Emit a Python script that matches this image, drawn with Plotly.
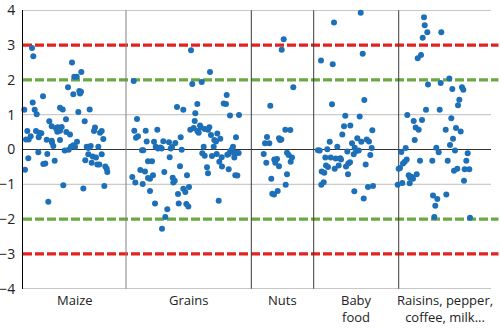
import plotly.graph_objects as go

# Category layout along the sample axis (boundaries between groups)
categories = ["Maize", "Grains", "Nuts", "Baby<br>food", "Raisins, pepper,<br>coffee, milk..."]
boundaries = [0, 103, 228.3, 290.7, 375.7, 468]

# z-scores per sample, grouped by category (x = sample position, y = z-score)
maize_x = [9, 10.3, 49, 51.3, 53.7, 58.3, 45, 50.3, 56.3, 58, 57, 20, 9.7, 1.3, 11.7, 13.7, 37, 39.7,
           55.3, 66.7, 43, 26.3, 61.7, 28.7, 33, 34.7, 38.7, 37, 34.3, 4.3, 13, 16.3, 18.3, 43.3, 47,
           72, 71, 78.7, 77, 3, 5.7, 7.7, 15.7, 23.7, 28.7, 29, 30.3, 37, 54, 50.3, 48, 52, 80.3, 63.7,
           65.3, 67.7, 75.3, 41.7, 45.7, 15.3, 24.3, 65.3, 69.7, 73, 78.7, 5.3, 31.7, 62.3, 68.7, 20.3,
           22.3, 74.3, 76.3, 82.3, 83.7, 84.3, 2, 40.3, 60.3, 81.3, 25.3]
maize_z = [2.92, 2.68, 2.50, 2.09, 2.09, 2.23, 1.79, 1.59, 1.68, 1.66, 1.61, 1.53, 1.35, 1.14, 1.14,
           1.01, 1.20, 1.15, 1.08, 1.15, 0.87, 0.81, 0.81, 0.67, 0.61, 0.64, 0.65, 0.54, 0.51, 0.53,
           0.53, 0.48, 0.47, 0.50, 0.43, 0.63, 0.53, 0.53, 0.48, 0.29, 0.29, 0.38, 0.35, 0.28, 0.25,
           0.20, 0.10, 0.27, 0.22, 0.12, 0.08, 0.08, 0.30, 0.08, 0.04, 0.10, 0.08, -0.03, -0.01, -0.08,
           -0.13, -0.14, -0.20, -0.23, -0.14, -0.25, -0.32, -0.31, -0.38, -0.42, -0.40, -0.43, -0.43,
           -0.49, -0.55, -0.65, -0.58, -1.03, -1.12, -1.05, -1.50]

grains_x = [168, 110.7, 187, 169.3, 178.7, 203.7, 200.7, 203, 174.3, 154, 160.3, 172.3, 207, 216, 114,
            171.7, 111.3, 122.7, 134.3, 167.3, 170.7, 177, 178, 174.3, 175.7, 181.7, 186.3, 185, 113,
            115, 188, 194.3, 197.3, 191.3, 193, 157.7, 213, 123.7, 131, 140.3, 146, 152.3, 132.7, 135,
            137.3, 138.7, 147.7, 149, 180.7, 190.7, 119, 120.3, 158.7, 210, 209, 207.3, 205.7, 210.7,
            213.3, 211.3, 215.7, 179.3, 181.7, 189, 193.7, 198.7, 204.3, 146.7, 125, 129, 196.3, 199,
            157, 184, 205.7, 117.3, 122, 185, 130, 127, 125, 109.3, 112.3, 119.7, 141.3, 149.7, 151.7,
            150.3, 164, 212.3, 214.3, 166, 160.3, 162.3, 127, 155, 195.7, 132, 155.7, 163.3, 165.3,
            144.3, 142.3, 139]
grains_z = [2.85, 1.97, 2.23, 1.88, 1.94, 1.57, 1.32, 1.31, 1.31, 1.22, 1.14, 1.04, 0.98, 0.99, 0.88,
            0.82, 0.54, 0.54, 0.57, 0.57, 0.62, 0.69, 0.63, 0.53, 0.48, 0.59, 0.64, 0.57, 0.34, 0.38,
            0.42, 0.46, 0.31, 0.27, 0.23, 0.35, 0.35, 0.23, 0.22, 0.24, 0.21, 0.19, 0.08, 0.03, 0.06,
            0.03, 0.03, 0.07, 0.08, 0.08, -0.02, -0.02, -0.01, 0.08, 0.01, -0.05, -0.13, -0.08, -0.10,
            -0.23, -0.10, -0.11, -0.18, -0.19, -0.13, -0.22, -0.15, -0.22, -0.34, -0.34, -0.35, -0.49,
            -0.48, -0.51, -0.57, -0.59, -0.63, -0.68, -0.74, -0.84, -0.82, -0.79, -0.95, -0.99, -0.65,
            -0.81, -0.90, -0.95, -0.74, -0.74, -0.75, -1.08, -1.13, -1.22, -1.19, -1.28, -1.47, -1.55,
            -1.55, -1.57, -1.64, -1.72, -1.94, -2.28]

nuts_x = [260.7, 258.7, 270.3, 247.3, 262.3, 267.3, 244, 242, 246.3, 256, 258.3, 257, 240.7, 243.3,
          251.3, 254, 252.3, 256, 264, 265.7, 269, 267.7, 248.3, 264, 262.7, 249.3, 251, 254.7]
nuts_z = [3.17, 2.87, 1.79, 1.26, 0.57, 0.56, 0.36, 0.18, 0.18, 0.32, 0.29, 0.27, -0.13, -0.38,
          -0.29, -0.27, -0.38, -0.48, -0.09, -0.16, -0.23, -0.35, -0.84, -0.71, -1.01, -1.27, -1.29,
          -1.19]

baby_x = [337.7, 311, 339.7, 298, 309.7, 341.3, 309, 322.3, 336.7, 327.3, 321, 319.3, 349.3, 334.3,
          338.3, 343.7, 346, 306.7, 314.3, 329, 331.7, 333.3, 335.7, 295, 296.7, 304.3, 324.3, 348.7,
          347.3, 330.7, 302.3, 307.7, 312.7, 317.3, 318, 327, 325.3, 323, 315.7, 311.7, 303, 305,
          298.7, 301.3, 325, 342.7, 298.3, 300.7, 331.3, 345, 350, 340.7]
baby_z = [3.93, 3.65, 2.75, 2.56, 2.45, 1.42, 1.30, 0.97, 0.95, 0.69, 0.67, 0.43, 0.55, 0.32, 0.22,
          0.29, 0.23, 0.22, 0.08, 0.18, 0.05, -0.04, -0.03, -0.02, -0.03, 0.01, -0.06, 0.04, -0.16,
          -0.14, -0.23, -0.23, -0.26, -0.25, -0.29, -0.37, -0.40, -0.49, -0.46, -0.55, -0.46, -0.50,
          -0.63, -0.67, -0.71, -0.43, -1.01, -0.94, -1.20, -1.08, -1.05, -1.41]

other_x = [401, 401.7, 404.3, 418.3, 399.7, 398, 394.7, 426.3, 405, 417.7, 429.3, 439, 440.3, 436.3,
           435, 403, 416.7, 384.3, 428.3, 390.7, 399, 392.7, 395.7, 422.7, 433, 437.7, 391.7, 430,
           427, 382.7, 378.3, 413.3, 415.7, 432, 444.7, 383.7, 381.7, 380, 397, 409.3, 424.7, 443.3,
           377, 375.7, 431, 434.3, 441.7, 446.3, 385.7, 388.3, 390, 387, 393.7, 441, 374.7, 379.3,
           386.7, 410, 414.3, 412.3, 423.3, 411.3, 447]
other_z = [3.80, 3.57, 3.37, 3.37, 3.21, 2.72, 2.62, 2.04, 1.87, 1.91, 1.74, 1.79, 1.72, 1.43, 1.27,
           1.14, 1.14, 0.99, 0.90, 0.82, 0.85, 0.63, 0.57, 0.57, 0.62, 0.52, 0.27, 0.31, 0.13, 0.04,
           -0.07, 0.05, -0.08, -0.03, -0.11, -0.29, -0.35, -0.40, -0.32, -0.32, -0.32, -0.32, -0.53,
           -0.55, -0.61, -0.55, -0.57, -0.57, -0.74, -0.78, -0.84, -0.81, -0.71, -0.90, -1.01, -0.96,
           -0.97, -1.32, -1.42, -1.62, -1.29, -1.94, -1.96]

# Action limits: warning (|z| = 2) and action (|z| = 3)
warning_limits = [2, -2]
action_limits = [3, -3]
y_ticks = [-4, -3, -2, -1, 0, 1, 2, 3, 4]

DOT = "#1d70b7"
FONT = "Open Sans"

fig = go.Figure()
for xs, zs in [(maize_x, maize_z), (grains_x, grains_z), (nuts_x, nuts_z),
               (baby_x, baby_z), (other_x, other_z)]:
    fig.add_trace(go.Scatter(x=xs, y=zs, mode="markers",
                             marker=dict(size=6, color=DOT, line=dict(width=0)),
                             showlegend=False, cliponaxis=False))

shapes = []
# horizontal grid lines (the limit lines cover +-2 and +-3)
for t in y_ticks:
    if t == 0 or abs(t) in (2, 3):
        continue
    shapes.append(dict(type="line", xref="x", yref="y", x0=boundaries[0], x1=boundaries[-1],
                       y0=t, y1=t, line=dict(color="#bdbdbd", width=1), layer="below"))
# zero line
shapes.append(dict(type="line", xref="x", yref="y", x0=boundaries[0], x1=boundaries[-1],
                   y0=0, y1=0, line=dict(color="#333333", width=1), layer="below"))
# category separators
for i, b in enumerate(boundaries[1:-1]):
    shapes.append(dict(type="line", xref="x", yref="y", x0=b, x1=b, y0=-4, y1=4,
                       line=dict(color="#808080" if i == 0 else "#3a3a3a", width=1), layer="below"))
# dashed limit lines
for lim in warning_limits:
    shapes.append(dict(type="line", xref="paper", yref="y", x0=0, x1=1.016, y0=lim, y1=lim,
                       line=dict(color="#6aa842", width=3.4, dash="9px,3px"), layer="below"))
for lim in action_limits:
    shapes.append(dict(type="line", xref="paper", yref="y", x0=0, x1=1.016, y0=lim, y1=lim,
                       line=dict(color="#e3211f", width=3.4, dash="9px,3px"), layer="below"))

# category labels below the axis
annotations = []
for i, name in enumerate(categories):
    cx = (boundaries[i] + boundaries[i + 1]) / 2
    annotations.append(dict(x=cx, y=0, xref="x", yref="paper", text=name, showarrow=False,
                            xanchor="center", yanchor="top", yshift=-1, borderpad=0,
                            font=dict(family=FONT, size=13, color="#222222")))

fig.update_layout(
    width=500, height=329,
    margin=dict(l=23, r=9, t=10, b=40, autoexpand=False),
    paper_bgcolor="white", plot_bgcolor="white",
    shapes=shapes, annotations=annotations,
    xaxis=dict(range=[boundaries[0], boundaries[-1]], showgrid=False, zeroline=False,
               showticklabels=False, showline=False, fixedrange=True, automargin=False),
    yaxis=dict(range=[-4.01, 4.01], tickvals=y_ticks, showgrid=False, zeroline=False,
               showline=True, linecolor="#000000", linewidth=1, ticks="",
               ticklabelstandoff=4, ticklabeloverflow="allow", automargin=False,
               tickfont=dict(family=FONT, size=14, color="#222222"), fixedrange=True),
    font=dict(family=FONT),
)

fig.write_html("out.html")
